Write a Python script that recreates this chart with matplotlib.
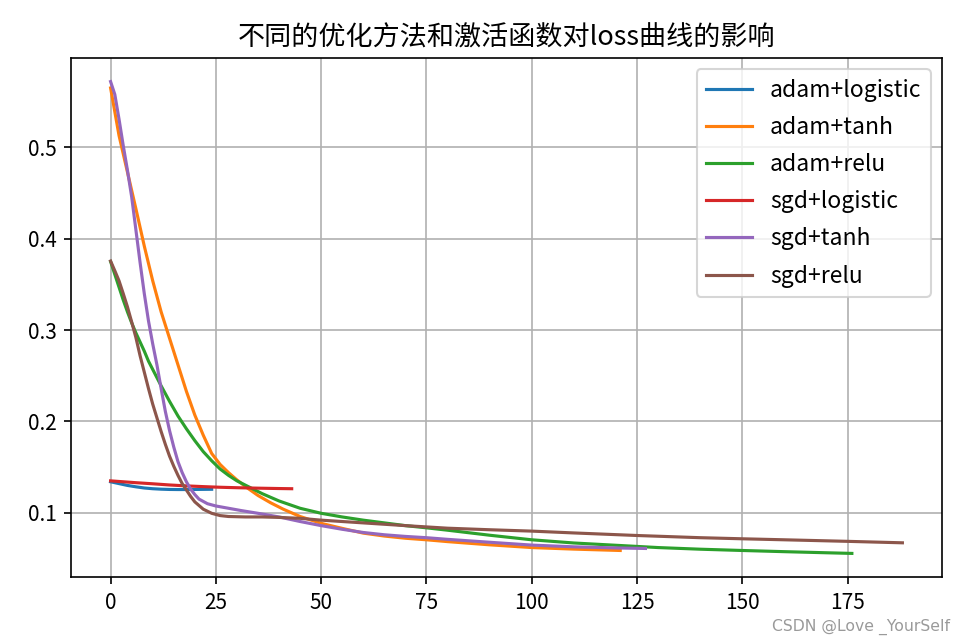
import matplotlib
matplotlib.use("Agg")
import matplotlib.pyplot as plt

plt.rcParams['font.family'] = ['Noto Sans CJK SC', 'DejaVu Sans']
plt.rcParams['axes.unicode_minus'] = False

title = "不同的优化方法和激活函数对loss曲线的影响"
labels = ["adam+logistic", "adam+tanh", "adam+relu", "sgd+logistic", "sgd+tanh", "sgd+relu"]

# adam + logistic
x_adam_logistic = [0, 2, 4, 6, 8, 10, 12, 14, 16, 18, 20, 22, 24]
y_adam_logistic = [0.1340, 0.1320, 0.1300, 0.1285, 0.1272, 0.1264, 0.1259, 0.1256,
                   0.1255, 0.1255, 0.1256, 0.1257, 0.1258]

# adam + tanh
x_adam_tanh = [0, 2, 4, 6, 8, 10, 12, 14, 16, 18, 20, 22, 24, 26, 28, 30, 32, 35, 38,
               41, 45, 50, 55, 60, 65, 70, 75, 80, 90, 100, 110, 121]
y_adam_tanh = [0.565, 0.513, 0.473, 0.433, 0.392, 0.354, 0.320, 0.291, 0.262, 0.233,
               0.207, 0.185, 0.165, 0.153, 0.1440, 0.1360, 0.1288, 0.119, 0.111, 0.104,
               0.096, 0.0885, 0.0830, 0.0778, 0.0746, 0.0722, 0.0705, 0.0685, 0.0650,
               0.0620, 0.0603, 0.0588]

# adam + relu
x_adam_relu = [0, 1, 2, 3, 4, 5, 6, 7, 8, 9, 10, 12, 14, 16, 18, 20, 22, 24, 26, 28,
               30, 33, 36, 40, 45, 50, 55, 60, 65, 70, 75, 80, 90, 100, 110, 120, 130,
               140, 150, 160, 170, 176]
y_adam_relu = [0.375, 0.361, 0.347, 0.333, 0.320, 0.308, 0.297, 0.287, 0.277, 0.266,
               0.257, 0.239, 0.222, 0.206, 0.192, 0.179, 0.167, 0.157, 0.148, 0.141,
               0.135, 0.128, 0.121, 0.113, 0.105, 0.0995, 0.0955, 0.092, 0.089, 0.086,
               0.0836, 0.081, 0.0755, 0.0705, 0.0670, 0.0645, 0.0620, 0.0602, 0.0588,
               0.0575, 0.0563, 0.0556]

# sgd + logistic
x_sgd_logistic = [0, 3, 6, 10, 14, 18, 22, 26, 30, 35, 40, 43]
y_sgd_logistic = [0.1350, 0.1340, 0.1330, 0.1318, 0.1305, 0.1295, 0.1287, 0.1280,
                  0.1275, 0.1270, 0.1266, 0.1264]

# sgd + tanh
x_sgd_tanh = [0, 1, 2, 3, 4, 5, 6, 7, 8, 9, 10, 11, 12, 13, 14, 15, 16, 17, 18, 19, 20,
              21, 23, 25, 28, 31, 35, 40, 45, 50, 55, 60, 65, 70, 75, 80, 90, 100, 110,
              120, 127]
y_sgd_tanh = [0.572, 0.558, 0.531, 0.502, 0.475, 0.446, 0.410, 0.374, 0.340, 0.310,
              0.285, 0.262, 0.236, 0.211, 0.190, 0.172, 0.156, 0.144, 0.134, 0.126,
              0.120, 0.1150, 0.1100, 0.1075, 0.1050, 0.1025, 0.0995, 0.0955, 0.0905,
              0.0860, 0.0820, 0.0785, 0.0760, 0.0742, 0.0728, 0.0710, 0.0678, 0.0647,
              0.0628, 0.0616, 0.0610]

# sgd + relu
x_sgd_relu = [0, 1, 2, 3, 4, 5, 6, 7, 8, 9, 10, 11, 12, 13, 14, 15, 16, 17, 18, 19, 20,
              21, 22, 24, 26, 28, 32, 36, 40, 45, 50, 55, 60, 65, 70, 75, 80, 90, 100,
              110, 125, 140, 150, 160, 175, 188]
y_sgd_relu = [0.3756, 0.365, 0.354, 0.340, 0.3255, 0.309, 0.292, 0.272, 0.254, 0.236,
              0.219, 0.204, 0.189, 0.175, 0.162, 0.151, 0.141, 0.132, 0.125, 0.118,
              0.112, 0.108, 0.104, 0.0995, 0.0970, 0.0960, 0.0955, 0.0955, 0.0950,
              0.0940, 0.0920, 0.0905, 0.0890, 0.0875, 0.0860, 0.0846, 0.0832, 0.0815,
              0.0800, 0.0780, 0.0752, 0.0728, 0.0716, 0.0705, 0.0688, 0.0672]

series = [
    (x_adam_logistic, y_adam_logistic),
    (x_adam_tanh, y_adam_tanh),
    (x_adam_relu, y_adam_relu),
    (x_sgd_logistic, y_sgd_logistic),
    (x_sgd_tanh, y_sgd_tanh),
    (x_sgd_relu, y_sgd_relu),
]

fig = plt.figure(figsize=(964 / 150, 643 / 150), dpi=150)
ax = fig.add_axes([71 / 964, 1 - 577 / 643, (942 - 71) / 964, (577 - 58) / 643])

for (xs, ys), lab in zip(series, labels):
    ax.plot(xs, ys, label=lab, linewidth=1.5)

ax.set_title(title, fontsize=13)
ax.grid(True)
ax.legend(loc="upper right", fontsize=11, labelspacing=0.62)
ax.set_xticks([0, 25, 50, 75, 100, 125, 150, 175])
ax.set_yticks([0.1, 0.2, 0.3, 0.4, 0.5])
ax.tick_params(labelsize=10)

fig.text(0.985, 0.012, "CSDN @Love _YourSelf", ha="right", va="bottom",
         color="#9a9a9a", fontsize=7.5, family=["DejaVu Sans"])

fig.savefig("out.png", dpi=150)
